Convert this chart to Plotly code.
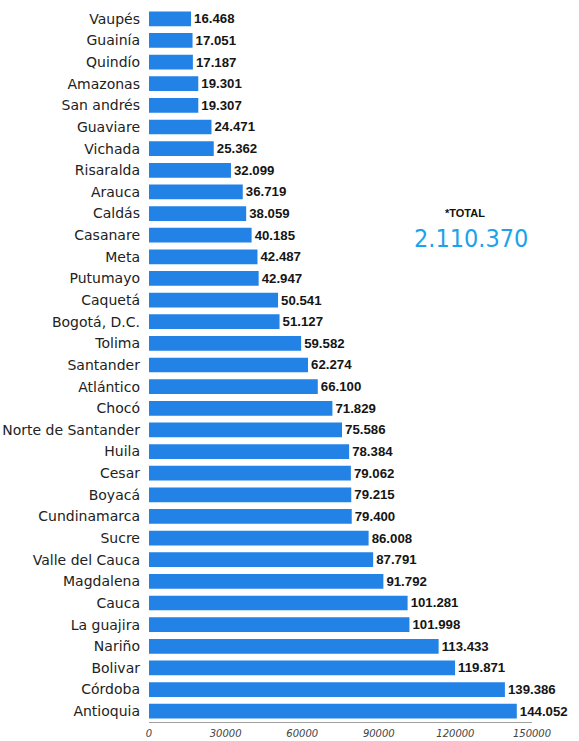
import plotly.graph_objects as go

departments = ["Vaupés", "Guainía", "Quindío", "Amazonas", "San andrés", "Guaviare", "Vichada",
               "Risaralda", "Arauca", "Caldás", "Casanare", "Meta", "Putumayo", "Caquetá",
               "Bogotá, D.C.", "Tolima", "Santander", "Atlántico", "Chocó", "Norte de Santander",
               "Huila", "Cesar", "Boyacá", "Cundinamarca", "Sucre", "Valle del Cauca", "Magdalena",
               "Cauca", "La guajira", "Nariño", "Bolivar", "Córdoba", "Antioquia"]
values = [16468, 17051, 17187, 19301, 19307, 24471, 25362, 32099, 36719, 38059, 40185, 42487,
          42947, 50541, 51127, 59582, 62274, 66100, 71829, 75586, 78384, 79062, 79215, 79400,
          86008, 87791, 91792, 101281, 101998, 113433, 119871, 139386, 144052]
value_labels = ["16.468", "17.051", "17.187", "19.301", "19.307", "24.471", "25.362", "32.099",
                "36.719", "38.059", "40.185", "42.487", "42.947", "50.541", "51.127", "59.582",
                "62.274", "66.100", "71.829", "75.586", "78.384", "79.062", "79.215", "79.400",
                "86.008", "87.791", "91.792", "101.281", "101.998", "113.433", "119.871",
                "139.386", "144.052"]
tick_vals = [0, 30000, 60000, 90000, 120000, 150000]
total_label = "*TOTAL"
total_value = "2.110.370"

W, H = 579, 741
ML, MR, MT, MB = 149, 47, 8, 19
plot_w = W - ML - MR
plot_h = H - MT - MB

def px_to_paper(px, py):
    return (px - ML) / plot_w, 1 - (py - MT) / plot_h

fig = go.Figure(go.Bar(
    x=values, y=departments, orientation="h",
    marker=dict(color="#2282e6", line=dict(width=0)),
    text=value_labels, textposition="outside",
    textfont=dict(family="Liberation Sans", size=13.5, color="#151515", weight="bold"),
    cliponaxis=False,
    width=0.68,
))

tx, ty = px_to_paper(465, 213)
vx, vy = px_to_paper(471, 239)

fig.update_layout(
    width=W, height=H,
    margin=dict(l=ML, r=MR, t=MT, b=MB, autoexpand=False),
    paper_bgcolor="white", plot_bgcolor="white",
    showlegend=False,
    xaxis=dict(range=[0, 150000], tickvals=tick_vals, ticktext=[str(v) for v in tick_vals],
               automargin=False,
               showgrid=False, zeroline=False, showline=True, linecolor="#a0a0a0", linewidth=1,
               ticks="", ticklabelstandoff=2,
               tickfont=dict(family="DejaVu Sans", size=10, color="#444444", style="italic")),
    yaxis=dict(autorange="reversed", showgrid=False, zeroline=False, showline=False,
               automargin=False, ticks="", ticklabelstandoff=8,
               tickfont=dict(family="DejaVu Sans", size=14, color="#222222")),
    annotations=[
        dict(text=total_label, x=tx, y=ty, xref="paper", yref="paper", showarrow=False,
             xanchor="center", yanchor="middle",
             font=dict(family="Liberation Sans", size=11, color="#111111", weight="bold")),
        dict(text=total_value, x=vx, y=vy, xref="paper", yref="paper", showarrow=False,
             xanchor="center", yanchor="middle",
             font=dict(family="DejaVu Sans Condensed, DejaVu Sans", size=25, color="#1ea2ea")),
    ],
)

fig.write_html("out.html", config={"displayModeBar": False},
               post_script="document.body.style.margin='0';document.body.style.padding='0';")
